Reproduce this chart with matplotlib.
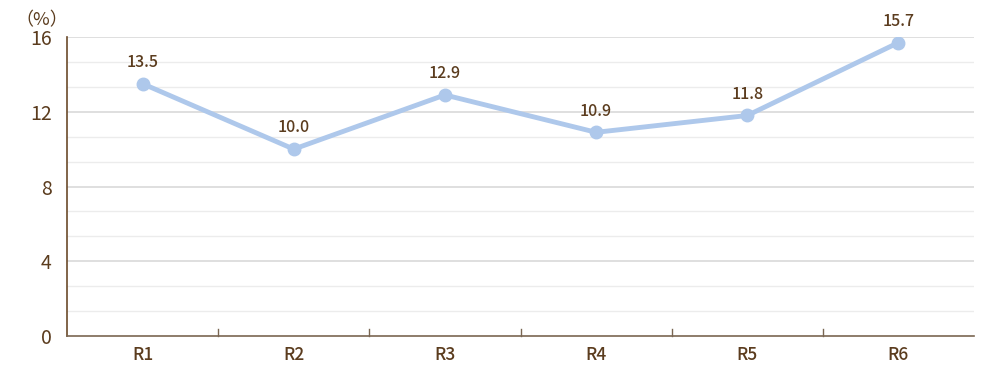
import numpy as np
import matplotlib
matplotlib.use("Agg")
import matplotlib.pyplot as plt

plt.rcParams["font.family"] = ["Noto Sans CJK JP", "DejaVu Sans"]

categories = ["R1", "R2", "R3", "R4", "R5", "R6"]
values = [13.5, 10.0, 12.9, 10.9, 11.8, 15.7]
y_ticks = [0, 4, 8, 12, 16]

text_color = "#5b3c1e"
line_color = "#aec8eb"

fig = plt.figure(figsize=(10, 3.8), dpi=100)
ax = fig.add_axes([0.067, 0.1158, 0.907, 0.7868])

x = np.arange(len(categories))
ax.set_xlim(-0.5, len(categories) - 0.5)
ax.set_ylim(0, 16)

# grid: major every 4, minor every 4/3
for yv in np.arange(0, 16.01, 4 / 3):
    if yv < 0.01:
        continue
    is_major = abs(yv / 4 - round(yv / 4)) < 1e-6
    ax.axhline(yv, color="#d9d9d9" if is_major else "#ececec",
               lw=1.2 if is_major else 1.0, zorder=0)

ax.plot(x, values, color=line_color, lw=3.5, marker="o", ms=9,
        markerfacecolor=line_color, markeredgecolor=line_color, zorder=3)

for xi, v in zip(x, values):
    ax.annotate(f"{v:.1f}", (xi, v), xytext=(0, 12), textcoords="offset points",
                ha="center", va="baseline", fontsize=11.5, color=text_color,
                fontweight="medium")

ax.set_yticks(y_ticks)
ax.set_yticklabels([str(t) for t in y_ticks], fontsize=14, color=text_color)
ax.tick_params(axis="y", length=0, pad=11)

ax.set_xticks(x)
ax.set_xticklabels(categories, fontsize=12.5, color=text_color, fontweight="medium")
ax.tick_params(axis="x", length=0, pad=7)

# boundary ticks pointing up from bottom axis
for b in np.arange(0.5, len(categories) - 1, 1.0):
    ax.plot([b, b], [0, 0.35], color="#7a6652", lw=1, zorder=2, clip_on=False)

for side in ["top", "right"]:
    ax.spines[side].set_visible(False)
ax.spines["left"].set_color("#6b4a2a")
ax.spines["left"].set_linewidth(1.2)
ax.spines["bottom"].set_color("#7a6652")
ax.spines["bottom"].set_linewidth(1.2)

fig.text(0.042, 0.947, "（%）", ha="center", va="center", fontsize=13,
         color=text_color)

fig.savefig("out.png", dpi=100)
